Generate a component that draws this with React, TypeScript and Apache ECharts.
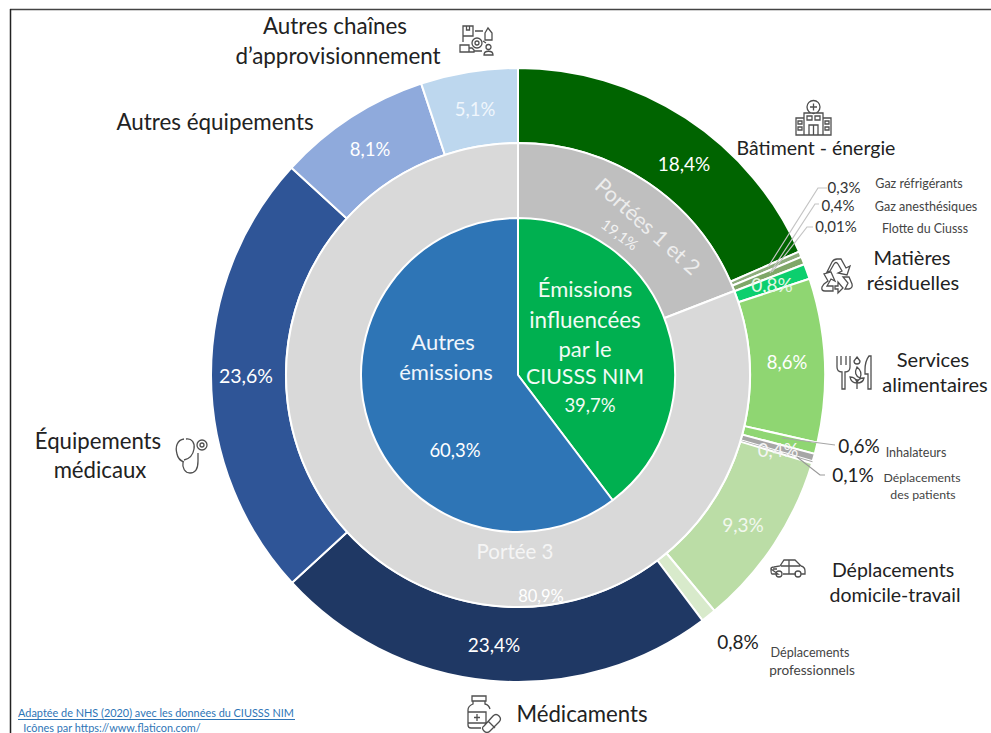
import React, { useEffect, useRef } from "react";
import * as echarts from "echarts";

const outerNames = ["Bâtiment - énergie","Gaz réfrigérants","Gaz anesthésiques","Flotte du Ciusss","Matières résiduelles","Services alimentaires","Inhalateurs","Déplacements autres","Déplacements des patients","Déplacements domicile-travail","Déplacements professionnels","Médicaments","Équipements médicaux","Autres équipements","Autres chaînes d'approvisionnement"];
const outerValues = [18.4,0.3,0.4,0.01,0.8,8.6,0.6,0.4,0.1,9.3,0.8,23.4,23.6,8.1,5.1];
const outerColors = ["#006400","#8DAD7C","#7FA768","#7FA768","#0CCF6E","#8FD672","#8FD672","#A6A6A6","#A6A6A6","#BBDDA6","#D8EACB","#1F3864","#2F5597","#8FAADC","#BDD7EE"];
const middleNames = ["Portées 1 et 2","Portée 3"];
const middleValues = [19.1,80.9];
const middleColors = ["#BFBFBF","#D9D9D9"];
const innerNames = ["Émissions influencées par le CIUSSS NIM","Autres émissions"];
const innerValues = [39.7,60.3];
const innerColors = ["#00B050","#2E75B6"];

const FONT = "Lato, Carlito, 'Open Sans', sans-serif";
const CX = 518, CY = 375;
const fmt = (v: number) => String(v).replace(".", ",") + "%";

// [x, y, colour, fontSize] of each outer percentage
const outerLabelPos: any[] = [
  [684,163,"#fff",19],[844,187,"#333",15],[838,205,"#333",15],[836,226,"#333",15],[772,284,"#E4F7E4",19],
  [787,362,"#fff",18.5],[859,445,"#222",19],[778,450,"#F5F5F5",18.5],[853,474,"#222",19],[743,524,"#F2F8EE",19],
  [738,641,"#222",19],[494,644,"#fff",19],[246,375,"#fff",19.5],[370,149,"#fff",18.5],[475,109,"#F0F6FC",18.5],
];
const middleLabelPos: any[] = [[620,234,"#F2F2F2",15,-36],[541,596,"#fff",16.5,0]];
const innerLabelPos: any[] = [[590,405,"#F2FBF5",18.5,0],[455,450,"#fff",18.5,0]];

const icons: Record<string,string> = {
  hospital: "M9 13H28V35H9ZM1 18H9V35H1ZM28 18H36V35H28ZM12 7a6.5 6.5 0 1 0 13 0a6.5 6.5 0 1 0 -13 0ZM18.5 3.5V10.5M15 7H22M12 16h5v4h-5ZM20 16h5v4h-5ZM3 21h4v3h-4ZM30 21h4v3h-4ZM3 27h4v3h-4ZM30 27h4v3h-4ZM14 35V25H23V35M18.5 25V35",
  chain: "M3 1h10v10h-10ZM6.5 1v4h3v-4M15 6h8M25 8l3-5 4 5v7h-7ZM12 18a5 5 0 1 0 10 0a5 5 0 1 0 -10 0ZM15 18a2 2 0 1 0 4 0a2 2 0 1 0 -4 0ZM0 20h9v7h-9ZM9 23h3l2 2v2h-5ZM3 11v6M23 16l3 2M14 26h8M26 22a2.5 2.5 0 1 0 5 0a2.5 2.5 0 1 0 -5 0ZM24 30c0-5 9-5 9 0Z",
  recycle: "M9 14L14 4Q16 1 19 1H23L28 10L32 8L29 17L20 15L24 13L20 6Q18 3 16 6L12 13ZM6 16L10 23L6 26L4 29Q3 33 7 33H15V28H9L13 21L17 23L13 14ZM20 28V24L25 30L20 35V31H17V28ZM25 19L31 19L34 26Q35 30 31 31H27L30 25Z",
  food: "M1 1V12Q1 17 6 17V34H9V17Q14 17 14 12V1M5 1V10M10 1V10M21 2l3 4a3 3 0 1 1 -6 0ZM33 1Q29 6 29 15V19H32V34H35V1ZM21 12Q27 17 24 23Q17 20 21 12ZM21 34V24M21 28Q15 28 14 22Q20 22 21 28ZM21 28Q27 28 28 23Q22 23 21 28Z",
  car: "M1 11Q1 9 4 9L10 8L14 2H25L31 8Q35 9 35 13V16H31M8 16H2Q1 16 1 11ZM13 16H26M11 8H30M19 2V16M6 16a3 3 0 1 0 6 0a3 3 0 1 0 -6 0ZM25 16a3 3 0 1 0 6 0a3 3 0 1 0 -6 0ZM3 11H7",
  stetho: "M9 2C2 3 0 10 2 17C3 22 6 24 9 25M11 2C17 1 20 6 19 12C18 18 14 22 9 23M8 25C7 31 10 36 15 36C21 36 23 30 23 24V16M22 8a5 5 0 1 0 10 0a5 5 0 1 0 -10 0ZM25 8a2 2 0 1 0 4 0a2 2 0 1 0 -4 0Z",
  medicine: "M5 1H19V6H5ZM6 6V9Q1 11 1 15V30Q1 33 4 33H14M18 6V9Q22 10 23 14M1 17H19V28H1M10 19V26M7 22.5H13M17 31L26 21Q29 18 32 21Q35 24 32 27L23 36Q20 39 17 36Q14 33 17 31ZM21 26L28 33",
};

function text(t: string, x: number, y: number, size: number, fill = "#222", extra: any = {}) {
  return { type: "text", x, y: y - 1, z: 20, ...extra, style: { text: t, fill, font: `${size}px ${FONT}`, textAlign: "center", textVerticalAlign: "middle" } };
}
function icon(name: string, x: number, y: number, scale = 1) {
  return { type: "ic_" + name, x, y, scaleX: scale, scaleY: scale, z: 20, style: { fill: "none", stroke: "#4F4F4F", lineWidth: 1.3 } };
}
function leader(pts: number[][], stroke: string) {
  return { type: "polyline", z: 19, shape: { points: pts }, style: { fill: "none", stroke, lineWidth: 1.2 } };
}

export default function App() {
  const ref = useRef<HTMLDivElement>(null);
  useEffect(() => {
    Object.keys(icons).forEach((k) => {
      echarts.graphic.registerShape("ic_" + k, echarts.graphic.extendPath(icons[k], {}) as any);
    });
    const chart = echarts.init(ref.current!, undefined, { renderer: "svg" });
    const mk = (vals: number[], names: string[], colors: string[], pos: any[], radius: number[], z: number) => ({
      type: "pie",
      radius,
      center: [CX, CY],
      startAngle: 90,
      clockwise: true,
      silent: true,
      z,
      minShowLabelAngle: 0,
      avoidLabelOverlap: false,
      itemStyle: { borderColor: "#fff", borderWidth: 2 },
      labelLine: { show: false },
      data: vals.map((v, i) => ({
        name: names[i],
        value: v,
        itemStyle: { color: colors[i], borderWidth: v <= 0.1 ? 0 : 2 },
        label: {
          show: true,
          position: "inside",
          formatter: fmt(v),
          color: pos[i][2],
          fontSize: pos[i][3],
          fontFamily: FONT,
        },
      })),
      labelLayout: (p: any) => {
        const q = pos[p.dataIndex];
        return { x: q[0], y: q[1], align: "center", verticalAlign: "middle", rotate: q[4] || 0 };
      },
    });
    chart.setOption({
      animation: false,
      backgroundColor: "#fff",
      series: [
        mk(innerValues, innerNames, innerColors, innerLabelPos, [0, 157], 3),
        mk(middleValues, middleNames, middleColors, middleLabelPos, [156, 232], 2),
        mk(outerValues, outerNames, outerColors, outerLabelPos, [232, 307], 1),
      ],
      graphic: [
        { type: "line", z: 18, shape: { x1: 10, y1: 9.5, x2: 991, y2: 9.5 }, style: { stroke: "#444", lineWidth: 1.5 } },
        { type: "line", z: 18, shape: { x1: 10.5, y1: 9, x2: 10.5, y2: 733 }, style: { stroke: "#222", lineWidth: 1.5 } },
        leader([[827,188],[818,188],[768,267]], "#C4C4C4"),
        leader([[819,204],[815,204],[770,273]], "#C4C4C4"),
        leader([[813,227],[807,227],[772,272]], "#C4C4C4"),
        leader([[835,445],[782,438]], "#A6A6A6"),
        leader([[825,475],[820,475],[797,457]], "#999999"),
        text("Autres chaînes", 335, 26, 22.4),
        text("d’approvisionnement", 338, 56, 22.4),
        text("Autres équipements", 215, 122, 22.4),
        text("Bâtiment - énergie", 816, 148, 19.5),
        text("Gaz réfrigérants", 919, 184, 12.5, "#444"),
        text("Gaz anesthésiques", 926, 207, 12.6, "#444"),
        text("Flotte du Ciusss", 925, 229, 12.4, "#444"),
        text("Matières", 912, 258, 20),
        text("résiduelles", 913, 283, 20),
        text("Services", 933, 360, 20),
        text("alimentaires", 935, 385, 20),
        text("Inhalateurs", 916, 453, 12.5, "#444"),
        text("Déplacements", 922, 478, 12.3, "#444"),
        text("des patients", 923, 495, 12.3, "#444"),
        text("Déplacements", 893, 570, 19.5),
        text("domicile-travail", 895, 595, 19.5),
        text("Déplacements", 810, 653, 12.6, "#444"),
        text("professionnels", 812, 671, 13.6, "#444"),
        text("Médicaments", 582, 714, 22.2),
        text("Équipements", 98, 441, 22.2),
        text("médicaux", 100, 470, 22.2),
        text("Émissions", 585, 289, 22, "#F2FBF5"),
        text("influencées", 585, 320, 22.4, "#F2FBF5"),
        text("par le", 585, 349, 22, "#F2FBF5"),
        text("CIUSSS NIM", 585, 377, 21.3, "#F2FBF5"),
        text("Autres", 443, 342, 22, "#F0F6FC"),
        text("émissions", 446, 372, 22, "#F0F6FC"),
        text("Portées 1 et 2", 648, 227, 21.5, "#EDEDED", { rotation: (-42 * Math.PI) / 180 }),
        text("Portée 3", 515, 552, 20.5, "#F5F5F5"),
        text("Adaptée de NHS (2020) avec les données du CIUSSS NIM", 156, 713, 10.9, "#2E75B6"),
        { type: "line", z: 18, shape: { x1: 18, y1: 719.5, x2: 295, y2: 719.5 }, style: { stroke: "#2E75B6", lineWidth: 1 } },
        text("Icônes par https://www.flaticon.com/", 112, 728, 10.9, "#2E75B6"),
        icon("hospital", 795, 100),
        icon("chain", 460, 25),
        icon("recycle", 818, 258),
        icon("food", 836, 355),
        icon("car", 770, 558),
        icon("stetho", 175, 437),
        icon("medicine", 467, 695),
      ],
    });
    return () => chart.dispose();
  }, []);
  return <div ref={ref} style={{ position: "absolute", left: 0, top: 0, width: 991, height: 733, overflow: "hidden" }} />;
}
